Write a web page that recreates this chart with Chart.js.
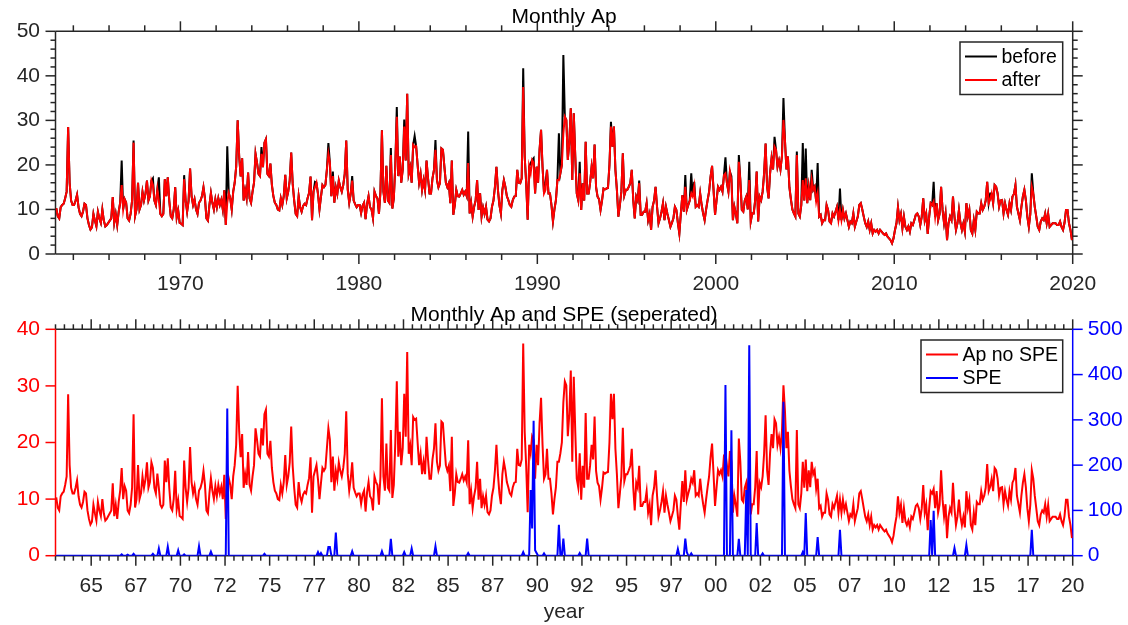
<!DOCTYPE html>
<html>
<head>
<meta charset="utf-8">
<title>Monthly Ap</title>
<script src="https://cdn.jsdelivr.net/npm/chart.js@4.4.1/dist/chart.umd.min.js"></script>
<style>
  html, body { margin: 0; background: #fff; }
  canvas { position: absolute; left: 0; }
  #top { top: 0; }
  #bottom { top: 300px; }
</style>
</head>
<body>
<canvas id="top" width="1128" height="300"></canvas>
<canvas id="bottom" width="1128" height="325"></canvas>
<script>
const startYear = 1963;

// monthly Ap after removing SPE months, one row per year (Jan..Dec)
const apAfter = [
  /*1963*/ 10.3, 8.5, 8.0, 10.5, 11, 11.3, 12.5, 14, 28.5, 16, 12, 11,
  /*1964*/ 11, 12, 13.3, 10.5, 9, 8.5, 9.5, 11.3, 11, 8, 6.5, 5.5,
  /*1965*/ 6, 9, 7.5, 6.2, 9.5, 8, 7, 10, 7.5, 6.2, 6.5, 7,
  /*1966*/ 7.5, 8, 12.8, 7, 9, 6.5, 9.5, 11.5, 15.5, 10, 12.3, 11.5,
  /*1967*/ 8, 7.5, 9, 12, 25, 8.5, 10, 16, 10, 11, 14, 12,
  /*1968*/ 13.5, 16.5, 12, 13, 16.5, 15.5, 12, 11, 14.5, 12, 9, 8.5,
  /*1969*/ 9, 16.8, 13, 17.2, 12, 8.5, 8, 10, 15, 8.2, 9.8, 7,
  /*1970*/ 6.8, 6.5, 16.8, 12, 9.5, 12, 19.2, 13, 11, 12.3, 10, 9,
  /*1971*/ 11.5, 12, 13, 15, 12.5, 8, 7.5, 11, 13.7, 11.5, 10, 12.3,
  /*1972*/ 10.5, 12.5, 11, 12.2, 10, 14.3, 6.5, 11.5, 13.7, 12.5, 10, 14,
  /*1973*/ 16, 19.6, 30, 22, 17.4, 21.5, 12, 14.4, 12.5, 18.3, 12.5, 11.5,
  /*1974*/ 14, 16, 22.5, 20.5, 18, 17.5, 22.5, 19.5, 25, 25.8, 18, 17.5,
  /*1975*/ 20.3, 15.5, 13, 11.5, 11, 10, 9.8, 12.5, 11, 13, 17.8, 12.5,
  /*1976*/ 14, 16.5, 22.8, 15.8, 12, 9, 8.5, 13, 10.5, 9.5, 10.8, 11.3,
  /*1977*/ 11, 12.5, 13.7, 17.4, 7.6, 14, 15, 16, 13.5, 10, 12.8, 15.5,
  /*1978*/ 15, 15.5, 19, 22.5, 20.5, 13, 17.5, 11.5, 15, 13.5, 16.5, 15,
  /*1979*/ 14, 15.5, 18, 25.5, 14.5, 11.5, 13.5, 16.5, 12, 11.2, 10.5, 11,
  /*1980*/ 11, 9.2, 10.8, 11.5, 7.8, 11.2, 13, 10.5, 10, 8, 14, 13,
  /*1981*/ 12.5, 9, 14, 27.8, 14, 11.5, 19.8, 12, 11.5, 22.2, 10.2, 12.5,
  /*1982*/ 20, 30.8, 17.5, 21.9, 16, 19, 28.6, 21, 36, 18, 19.5, 16,
  /*1983*/ 24.5, 24, 24.2, 20, 16, 18, 14.4, 16.6, 14.4, 21, 17, 13.6,
  /*1984*/ 13.6, 17, 18.9, 23.4, 16.6, 15, 15.9, 23.7, 23.4, 19.6, 16, 15,
  /*1985*/ 15.9, 11.4, 21, 8.8, 11, 14.4, 13, 12.9, 13.6, 14.4, 13.3, 14,
  /*1986*/ 13, 20.4, 9.1, 11.4, 8.4, 10.6, 12, 16.6, 9.9, 13.6, 8.4, 10.5,
  /*1987*/ 9, 10.6, 7.7, 7.3, 8, 10.6, 12, 15.1, 19.6, 14.4, 11, 9.1,
  /*1988*/ 14.4, 16.6, 15.1, 13, 12.1, 11, 10.6, 12.1, 12.9, 13, 18.9, 16,
  /*1989*/ 15.9, 17, 37.5, 21.9, 15.9, 7.7, 19.6, 18.1, 21.1, 20.5, 13.6, 19.6,
  /*1990*/ 16, 23.4, 27.9, 19.6, 13.6, 14.4, 18.9, 13.6, 13.6, 11, 7.3, 10,
  /*1991*/ 12.1, 16.6, 16.6, 18.1, 20, 27.1, 30.8, 30.1, 21.1, 25, 32.7, 16.6,
  /*1992*/ 31.6, 22, 13.6, 12.1, 18.1, 9.9, 15.9, 12, 25.2, 13.6, 13.6, 16,
  /*1993*/ 19.6, 17, 24.6, 15, 12.9, 12.3, 9.9, 12, 14.7, 14.5, 14.7, 14.8,
  /*1994*/ 20, 28.6, 24.1, 28.6, 18.9, 14.4, 8.4, 11, 14, 22.6, 13.2, 14.4,
  /*1995*/ 14.4, 15.1, 15.9, 18.9, 12.1, 8, 12.9, 12, 15.9, 8.8, 8.8, 9.5,
  /*1996*/ 9.5, 11.4, 7.6, 9, 5.4, 10.6, 12, 15.1, 10.6, 6.9, 8, 9.5,
  /*1997*/ 11.4, 7.6, 10.6, 9, 7.6, 6.1, 7, 8, 10.6, 9.9, 7, 4.6,
  /*1998*/ 9.1, 13.2, 9.5, 15.1, 9.9, 11, 12, 13.6, 12.9, 15.1, 10.6, 11,
  /*1999*/ 10.6, 13.6, 11, 9.1, 7.6, 10, 12.1, 14, 17.4, 19.8, 14.4, 8.8,
  /*2000*/ 12, 15.1, 14.4, 15.1, 14, 17.7, 18.1, 15.9, 14, 18.5, 16.6, 7.6,
  /*2001*/ 10.6, 9, 6.9, 20.7, 16.6, 9.9, 9.5, 12, 12.9, 10, 16.6, 7.3,
  /*2002*/ 9.1, 9.1, 12.1, 18.5, 7.3, 12.9, 12.1, 14, 18.1, 24.8, 15.1, 12.5,
  /*2003*/ 18.1, 21.5, 19, 24.1, 23.4, 19.6, 21, 19, 22, 30.1, 25.6, 19,
  /*2004*/ 21.9, 15, 12.3, 10, 9.1, 8.4, 22.2, 9.1, 8.4, 11, 16.6, 12,
  /*2005*/ 17, 11.4, 15.1, 12.1, 16.6, 14.4, 15.1, 11.8, 13.6, 8.4, 8.8, 6.9,
  /*2006*/ 7.6, 7.6, 11, 9.9, 7.3, 6.9, 9.1, 8.4, 9.5, 10.6, 7.6, 9.9,
  /*2007*/ 7.6, 9.9, 8, 9.1, 7.6, 6.1, 7.3, 6.9, 9.1, 6.1, 7.3, 8.4,
  /*2008*/ 11, 11.4, 10, 8.4, 6.9, 6.1, 7.3, 5.4, 6.9, 4.6, 5.4, 5,
  /*2009*/ 5.4, 4.6, 5.4, 5, 4.6, 4.3, 4.6, 3.9, 3.5, 3.1, 2.4, 3.5,
  /*2010*/ 5.4, 6.9, 10.5, 7.6, 9, 5.8, 8.4, 6.1, 5.4, 6.2, 5, 6.9,
  /*2011*/ 6.5, 7.6, 8.8, 9.1, 8.4, 6.5, 8.4, 12.5, 7.6, 9, 4.5, 8.4,
  /*2012*/ 11.4, 11, 11.8, 8.4, 11.4, 7.6, 9, 15.1, 9.9, 6.9, 9.1, 3.1,
  /*2013*/ 6.9, 8.4, 7.6, 12.9, 8.4, 5.4, 6.9, 9.9, 7, 5.4, 6.9, 5,
  /*2014*/ 11.4, 8.4, 9.9, 5.4, 4.6, 7.6, 5.4, 9.5, 9.1, 9.1, 11.4, 9.9,
  /*2015*/ 10.6, 12, 16.2, 11.4, 12.2, 13.6, 11.4, 15.5, 15.1, 13.6, 10.6, 12,
  /*2016*/ 12.1, 9.1, 11.4, 9.9, 8.8, 11.4, 9.9, 12.9, 13.5, 15.5, 10.6, 9.1,
  /*2017*/ 7.6, 10.6, 12.9, 14.4, 12.1, 8.4, 6.1, 9, 15.1, 13.6, 10.6, 8.4,
  /*2018*/ 6.1, 5.4, 7.3, 8, 7.6, 9.1, 6.9, 9, 6.1, 6.5, 6.9, 6.9,
  /*2019*/ 6.9, 6.5, 6.5, 7.3, 6.1, 5.4, 7, 9.9, 9.9, 6.9, 5.4, 3.1
];

// months where the original ("before") Ap was higher: [year, month, Ap]
const beforeSpikes = [
  [1966, 9, 21], [1967, 5, 25.5], [1968, 6, 17], [1968, 10, 17.2], [1970, 3, 17.7],
  [1972, 8, 24.2], [1974, 7, 24], [1977, 7, 16.2], [1978, 4, 24.9], [1978, 7, 18.5],
  [1979, 8, 17.5], [1981, 10, 23.8], [1982, 2, 33], [1982, 7, 30.2], [1983, 2, 26.5],
  [1984, 4, 25.6], [1986, 2, 27.5], [1989, 3, 41.7], [1989, 8, 20.4], [1989, 10, 21.5],
  [1990, 6, 15.9], [1991, 3, 27.1], [1991, 6, 44.7], [1992, 5, 20.7], [1994, 2, 29.7],
  [1995, 9, 16.5], [1998, 4, 17.7], [1998, 8, 18.1], [1998, 10, 16.2], [2000, 7, 21.7],
  [2000, 11, 17.5], [2001, 4, 22.2], [2001, 11, 20.7], [2003, 4, 26.3], [2003, 10, 35],
  [2004, 7, 23], [2004, 11, 24.9], [2005, 1, 23.7], [2005, 5, 18.9], [2005, 9, 20.4],
  [2006, 12, 14.7], [2012, 3, 16.2], [2015, 5, 13.6], [2017, 9, 18.1]
];

// SPE months: [year, month, value]; all other months are 0
const speEvents = [
  [1966, 9, 3], [1967, 1, 2], [1967, 5, 4], [1968, 6, 4], [1968, 10, 16], [1969, 4, 20],
  [1969, 11, 12], [1970, 3, 3], [1971, 1, 21], [1971, 9, 9], [1972, 8, 325], [1974, 9, 4],
  [1977, 9, 8], [1977, 11, 6], [1978, 4, 19], [1978, 5, 19], [1978, 9, 51], [1979, 8, 10],
  [1981, 4, 10], [1981, 10, 37], [1982, 7, 8], [1982, 12, 16], [1984, 4, 21], [1986, 2, 6],
  [1989, 3, 8], [1989, 8, 145], [1989, 9, 60], [1989, 10, 298], [1989, 11, 12], [1989, 12, 6],
  [1990, 5, 5], [1991, 3, 68], [1991, 6, 38], [1992, 5, 6], [1992, 10, 38], [1997, 11, 15],
  [1998, 4, 38], [1998, 5, 8], [1998, 8, 5], [2000, 7, 377], [2000, 11, 277], [2001, 4, 37],
  [2001, 9, 145], [2001, 11, 465], [2002, 4, 72], [2002, 8, 5], [2003, 10, 340], [2004, 11, 8],
  [2005, 1, 94], [2005, 9, 41], [2006, 12, 57], [2012, 1, 79], [2012, 3, 99], [2013, 5, 17],
  [2014, 1, 24], [2017, 9, 57]
];

const topTickYears = [1970, 1980, 1990, 2000, 2010, 2020];
const bottomTickYears = [1965, 1967.5, 1970, 1972.5, 1975, 1977.5, 1980, 1982.5, 1985, 1987.5, 1990, 1992.5,
  1995, 1997.5, 2000, 2002.5, 2005, 2007.5, 2010, 2012.5, 2015, 2017.5, 2020];
const bottomTickLabels = ['65', '67', '70', '72', '75', '77', '80', '82', '85', '87', '90', '92',
  '95', '97', '00', '02', '05', '07', '10', '12', '15', '17', '20'];

const GRAY = '#262626', RED = '#ff0000', BLUE = '#0000ff';
const FONT = '"Liberation Sans", Arial, Helvetica, sans-serif';
Chart.defaults.font.family = FONT;
Chart.defaults.color = GRAY;

const idx = (y, m) => (y - startYear) * 12 + m - 1;
const monthX = apAfter.map((_, i) => startYear + (i + 0.5) / 12);
const apBefore = apAfter.slice();
beforeSpikes.forEach(([y, m, v]) => { apBefore[idx(y, m)] = v; });
const spe = apAfter.map(() => 0);
speEvents.forEach(([y, m, v]) => { spe[idx(y, m)] = v; });
const pts = arr => arr.map((v, i) => ({ x: monthX[i], y: v }));

// box, outward ticks, title and boxed legend in the MATLAB look
const axesBox = {
  id: 'axesBox',
  beforeDatasetsDraw(chart, args, o) {
    const { ctx, chartArea: a, scales } = chart;
    const line = (x1, y1, x2, y2, c) => { ctx.strokeStyle = c; ctx.beginPath(); ctx.moveTo(x1, y1); ctx.lineTo(x2, y2); ctx.stroke(); };
    ctx.save();
    ctx.lineWidth = 1.5;
    line(a.left, a.top, a.right, a.top, GRAY);
    line(a.left, a.bottom, a.right, a.bottom, GRAY);
    line(a.left, a.top, a.left, a.bottom, o.leftColor);
    line(a.right, a.top, a.right, a.bottom, o.rightColor);
    o.xTicks.forEach(([v, len]) => {
      const x = scales.x.getPixelForValue(v);
      line(x, a.bottom, x, a.bottom + len, GRAY);
      line(x, a.top, x, a.top - len, GRAY);
    });
    o.leftTicks.forEach(([v, len]) => { const y = scales.y.getPixelForValue(v); line(a.left - len, y, a.left, y, o.leftColor); });
    o.rightTicks.forEach(([v, len]) => { const y = scales[o.rightScale].getPixelForValue(v); line(a.right, y, a.right + len, y, o.rightColor); });
    ctx.restore();
  },
  afterDraw(chart, args, o) {
    const { ctx, chartArea: a } = chart;
    ctx.save();
    ctx.fillStyle = '#000';
    ctx.font = '21px ' + FONT;
    ctx.textAlign = 'center';
    ctx.textBaseline = 'alphabetic';
    ctx.fillText(o.title, (a.left + a.right) / 2, a.top - 8.6);
    // legend
    const w = o.legendWidth, h = 52.5, lx = a.right - 10 - w, ly = a.top + 10.7;
    ctx.fillStyle = '#fff';
    ctx.fillRect(lx, ly, w, h);
    ctx.strokeStyle = GRAY; ctx.lineWidth = 1.5;
    ctx.strokeRect(lx, ly, w, h);
    ctx.font = '19.5px ' + FONT;
    ctx.textAlign = 'left';
    ctx.textBaseline = 'middle';
    chart.data.datasets.forEach((ds, i) => {
      const y = ly + 14.5 + i * 23.5;
      ctx.strokeStyle = ds.borderColor; ctx.lineWidth = 2;
      ctx.beginPath(); ctx.moveTo(lx + 5, y); ctx.lineTo(lx + 37, y); ctx.stroke();
      ctx.fillStyle = '#000';
      ctx.fillText(ds.label, lx + 41.5, y + 1);
    });
    ctx.restore();
  }
};

const tickList = (from, to, step, isMajor, major, minor) => {
  const out = [];
  for (let v = from; v <= to + 1e-9; v += step) out.push([v, isMajor(v) ? major : minor]);
  return out;
};
const noGrid = { display: false, drawTicks: false };
const lineStyle = { borderWidth: 2, pointRadius: 0, tension: 0, fill: false };

new Chart(document.getElementById('top'), {
  type: 'line',
  data: {
    datasets: [
      { label: 'before', data: pts(apBefore), borderColor: '#000', order: 2, ...lineStyle },
      { label: 'after', data: pts(apAfter), borderColor: RED, order: 1, ...lineStyle }
    ]
  },
  options: {
    responsive: false,
    animation: false,
    events: [],
    layout: { padding: { top: 31.3, right: 55.3, left: 0, bottom: 0 } },
    plugins: {
      legend: { display: false },
      tooltip: { enabled: false },
      axesBox: {
        title: 'Monthly Ap', legendWidth: 102.7, leftColor: GRAY, rightColor: GRAY, rightScale: 'y',
        xTicks: tickList(1964, 2020, 2, v => v % 10 === 0, 10, 6),
        leftTicks: tickList(0, 50, 2, v => v % 10 === 0, 10, 5),
        rightTicks: tickList(0, 50, 2, v => v % 10 === 0, 10, 5)
      }
    },
    scales: {
      x: {
        type: 'linear', min: 1963, max: 2020, grid: noGrid, border: { display: false },
        afterBuildTicks: s => { s.ticks = topTickYears.map(v => ({ value: v })); },
        afterFit: s => { s.height = 46; },
        ticks: { autoSkip: false, maxRotation: 0, padding: 18, font: { size: 21 }, callback: v => String(v) }
      },
      y: {
        min: 0, max: 50, grid: noGrid, border: { display: false },
        afterFit: s => { s.width = 55.5; },
        ticks: { stepSize: 10, padding: 15.5, font: { size: 21 } }
      }
    }
  },
  plugins: [axesBox]
});

new Chart(document.getElementById('bottom'), {
  type: 'line',
  data: {
    datasets: [
      { label: 'Ap no SPE', data: pts(apAfter), borderColor: RED, yAxisID: 'y', order: 2, ...lineStyle },
      { label: 'SPE', data: pts(spe), borderColor: BLUE, yAxisID: 'y1', order: 1, ...lineStyle }
    ]
  },
  options: {
    responsive: false,
    animation: false,
    events: [],
    layout: { padding: { top: 29.3, right: 0, left: 0, bottom: 0 } },
    plugins: {
      legend: { display: false },
      tooltip: { enabled: false },
      axesBox: {
        title: 'Monthly Ap and SPE (seperated)', legendWidth: 141.7, leftColor: RED, rightColor: BLUE, rightScale: 'y1',
        xTicks: tickList(1963, 2020, 0.5, v => (v - 1965) % 2.5 === 0, 10, 5),
        leftTicks: tickList(0, 40, 10, () => true, 10, 10),
        rightTicks: tickList(0, 500, 100, () => true, 10, 10)
      }
    },
    scales: {
      x: {
        type: 'linear', min: 1963, max: 2020, grid: noGrid, border: { display: false },
        afterBuildTicks: s => { s.ticks = bottomTickYears.map(v => ({ value: v })); },
        afterFit: s => { s.height = 69.3; },
        ticks: { autoSkip: false, maxRotation: 0, padding: 18, font: { size: 21 }, callback: (v, i) => bottomTickLabels[i] },
        title: { display: true, text: 'year', font: { size: 21 }, color: GRAY, padding: { top: 0, bottom: 0 } }
      },
      y: {
        min: 0, max: 40, grid: noGrid, border: { display: false },
        afterFit: s => { s.width = 55.5; },
        ticks: { stepSize: 10, padding: 15.5, font: { size: 21 }, color: RED }
      },
      y1: {
        position: 'right', min: 0, max: 500, grid: noGrid, border: { display: false },
        afterFit: s => { s.width = 55.3; },
        ticks: { stepSize: 100, padding: 15, font: { size: 21 }, color: BLUE }
      }
    }
  },
  plugins: [axesBox]
});
</script>
</body>
</html>
